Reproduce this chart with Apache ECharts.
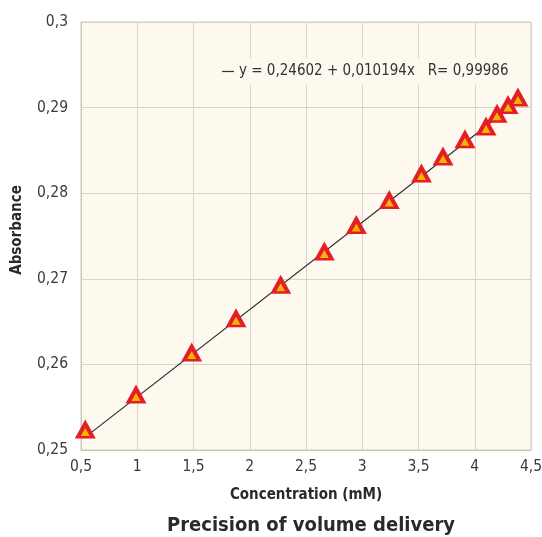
<!DOCTYPE html>
<html><head><meta charset="utf-8">
<script src="https://cdn.jsdelivr.net/npm/echarts@6/dist/echarts.min.js"></script>
<style>html,body{margin:0;padding:0;background:#fff}#c{width:542px;height:537px}</style>
</head><body><div id="c"></div>
<script>
const concentration = [0.538, 0.989, 1.484, 1.878, 2.275, 2.663, 2.947, 3.240, 3.526, 3.718, 3.913, 4.100, 4.198, 4.296, 4.384];
const absorbance = [0.2521, 0.2562, 0.2611, 0.2651, 0.2690, 0.2729, 0.2760, 0.2789, 0.2820, 0.2840, 0.2860, 0.2875, 0.2890, 0.2900, 0.2909];
const fitIntercept = 0.24602;
const fitSlope = 0.010194;
const fitRange = [0.538, 4.384];
const fitLabel = 'y = 0,24602 + 0,010194x   R= 0,99986';
const xTicks = {min: 0.5, max: 4.5, interval: 0.5};
const yTicks = {min: 0.25, max: 0.3, interval: 0.01};

const font = '"DejaVu Sans Condensed", "Liberation Sans Narrow", "Roboto", sans-serif';
const fmt = v => String(+v.toFixed(3)).replace('.', ',');
const pts = concentration.map((x, i) => [x, absorbance[i]]);
const fit = fitRange.map(x => [x, fitIntercept + fitSlope * x]);

const chart = echarts.init(document.getElementById('c'));
chart.setOption({
  animation: false,
  backgroundColor: '#ffffff',
  title: {
    text: 'Precision of volume delivery', left: 306, top: 511, textAlign: 'center',
    textStyle: {fontFamily: font, fontSize: 20, fontWeight: 'bold', color: '#2a2a2a'}
  },
  legend: {
    data: [{name: fitLabel, icon: 'path://M0,0 L10,0 L10,1 L0,1 Z'}],
    left: 214, top: 58, itemWidth: 12, itemHeight: 1.5, itemGap: 6,
    padding: [6, 8], backgroundColor: '#fdf9ef',
    textStyle: {fontFamily: font, fontSize: 15, color: '#333'}
  },
  grid: {left: 81, right: 11, top: 22, bottom: 87, outerBoundsMode: 'none', containLabel: false, show: true, backgroundColor: '#fdf9ef', borderColor: '#cfcbbf', borderWidth: 1},
  xAxis: {
    type: 'value', min: xTicks.min, max: xTicks.max, interval: xTicks.interval,
    name: 'Concentration (mM)', nameLocation: 'middle', nameGap: 38,
    nameTextStyle: {fontFamily: font, fontSize: 15, fontWeight: 'bold', color: '#2a2a2a'},
    axisLine: {show: true, lineStyle: {color: '#c8c4b8'}}, axisTick: {show: false},
    axisLabel: {formatter: fmt, fontFamily: font, fontSize: 15.5, color: '#3a3a3a', margin: 9},
    splitLine: {show: true, lineStyle: {color: '#d8d4c8'}}
  },
  yAxis: {
    type: 'value', min: yTicks.min, max: yTicks.max, interval: yTicks.interval,
    name: 'Absorbance', nameLocation: 'middle', nameGap: 56, nameRotate: 90,
    nameTextStyle: {fontFamily: font, fontSize: 15, fontWeight: 'bold', color: '#2a2a2a', padding: [0, 0, 0, 12]},
    axisLine: {show: true, lineStyle: {color: '#c8c4b8'}}, axisTick: {show: false},
    axisLabel: {formatter: fmt, fontFamily: font, fontSize: 15.5, color: '#3a3a3a', margin: 13},
    splitLine: {show: true, lineStyle: {color: '#d8d4c8'}}
  },
  series: [
    {name: fitLabel, type: 'line', data: fit, symbol: 'none', lineStyle: {color: '#2a2a2a', width: 1.2}, itemStyle: {color: '#333'}, z: 2},
    {name: 'pts', type: 'scatter', data: pts, symbol: 'triangle', symbolSize: [21, 19], symbolOffset: [0, -3], itemStyle: {color: '#e41e26', opacity: 1}, z: 3},
    {name: 'pts2', type: 'scatter', data: pts, symbol: 'triangle', symbolSize: [9, 8], symbolOffset: [0, 0], itemStyle: {color: '#f6b400', opacity: 1}, z: 4}
  ]
});
</script></body></html>
